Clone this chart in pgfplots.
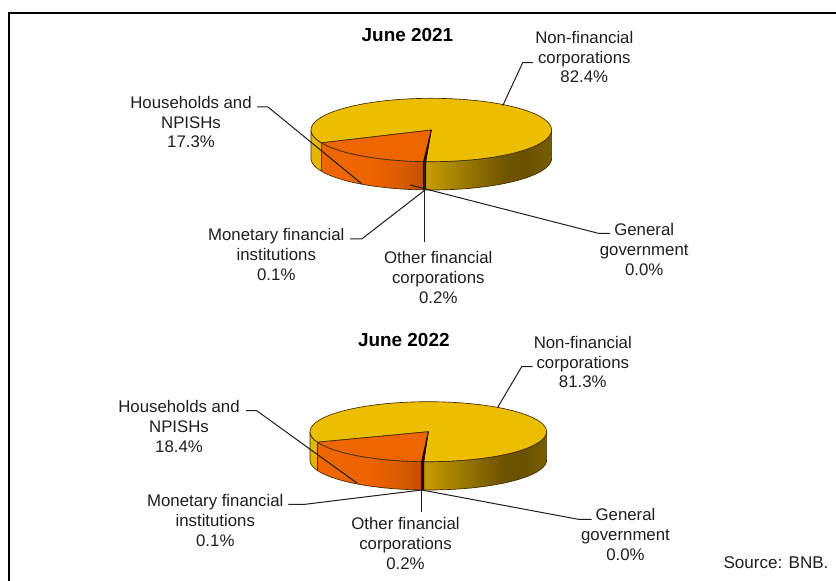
\documentclass[border=0pt]{standalone}
\usepackage{pgfplots}
\usepackage{pgfplotstable}
\usepackage{fontspec}
\setmainfont{Liberation Sans}
\pgfplotsset{compat=1.18}

% Shares of each sector, in the clockwise order the slices follow
\pgfplotstableread{
sector      y2021  y2022
nonfin      82.4   81.3
government  0.0    0.0
otherfin    0.2    0.2
monetary    0.1    0.1
households  17.3   18.4
}\shares

\definecolor{gold}{RGB}{236,190,0}
\definecolor{goldleft}{RGB}{228,182,0}
\definecolor{flame}{RGB}{238,102,0}
\definecolor{rim}{RGB}{70,42,0}
\definecolor{thin}{RGB}{30,6,0}
\definecolor{ink}{RGB}{30,30,30}

\tikzset{
  wall/.style={draw=rim, line width=0.5pt, line join=round},
  sliver/.style={draw=thin, fill=thin, line width=0.3pt, line join=round},
  leader/.style={draw=ink, line width=0.75pt},
  lab/.style={font=\fontsize{12.6}{14.7}\selectfont, text=ink, align=center, inner sep=0pt},
  ttl/.style={font=\fontsize{14.2}{16}\selectfont\bfseries, text=black, inner sep=0pt},
}

% Side walls of the pie: shading runs over the middle 50bp of the 100bp box
\pgfdeclarehorizontalshading{goldwall}{100bp}{
  rgb(0bp)=(0.78,0.62,0); rgb(25bp)=(0.78,0.62,0); rgb(41bp)=(0.60,0.47,0);
  rgb(57bp)=(0.43,0.33,0); rgb(66bp)=(0.42,0.32,0); rgb(75bp)=(0.47,0.37,0); rgb(100bp)=(0.47,0.37,0)}
\pgfdeclarehorizontalshading{flamewall}{100bp}{
  rgb(0bp)=(0.94,0.40,0); rgb(25bp)=(0.94,0.40,0); rgb(50bp)=(0.93,0.39,0);
  rgb(64bp)=(0.86,0.36,0); rgb(75bp)=(0.76,0.31,0); rgb(100bp)=(0.76,0.31,0)}

% Wedge of the top face: #1 cx, #2 cy, #3 rx, #4 ry, #5 from, #6 to, #7 style
\newcommand{\topwedge}[7]{%
  \pgfmathsetmacro\angstep{(#6-(#5))/60}%
  \pgfmathsetmacro\anglo{#5-\angstep}%
  \pgfmathsetmacro\angmid{#5-\angstep/2}%
  \pgfmathsetmacro\anghi{#6}%
  \addplot[#7,domain=\anglo:\anghi,samples=62]
    ({ifthenelse(x<\angmid,#1,#1+#3*sin(x))},{ifthenelse(x<\angmid,#2,#2-#4*cos(x))}) -- cycle;
}
% Wall below the rim: #1 cx, #2 cy, #3 rx, #4 ry, #5 depth, #6 from, #7 to, #8 style
\newcommand{\sidewall}[8]{%
  \addplot[#8,domain=0:2,samples=121]
    ({#1+#3*sin(#6+(#7-(#6))*min(1,(1-abs(x-1))/0.98))},
     {#2-#4*cos(#6+(#7-(#6))*min(1,(1-abs(x-1))/0.98))+#5*(x<1)}) -- cycle;
}
% One whole pie: #1 table column, #2 cx, #3 cy, #4 rx, #5 ry, #6 depth, #7 start angle
\newcommand{\drawpie}[7]{%
  \pgfplotstablegetelem{0}{#1}\of\shares\let\sA\pgfplotsretval
  \pgfplotstablegetelem{1}{#1}\of\shares\let\sB\pgfplotsretval
  \pgfplotstablegetelem{2}{#1}\of\shares\let\sC\pgfplotsretval
  \pgfplotstablegetelem{3}{#1}\of\shares\let\sD\pgfplotsretval
  \pgfmathsetmacro\aA{#7+3.6*\sA}%
  \pgfmathsetmacro\aB{\aA+3.6*\sB}%
  \pgfmathsetmacro\aC{\aB+3.6*\sC}%
  \pgfmathsetmacro\aD{\aC+3.6*\sD}%
  \pgfmathsetmacro\fA{\aB-360}%
  \pgfmathsetmacro\fC{\aC-360}%
  \pgfmathsetmacro\fD{\aD-360}%
  \sidewall{#2}{#3}{#4}{#5}{#6}{90}{\fA}{wall,shading=goldwall}
  \sidewall{#2}{#3}{#4}{#5}{#6}{\fD}{#7}{wall,shading=flamewall}
  \sidewall{#2}{#3}{#4}{#5}{#6}{#7}{270}{wall,fill=goldleft}
  \sidewall{#2}{#3}{#4}{#5}{#6}{\fA}{\fC}{sliver}
  \sidewall{#2}{#3}{#4}{#5}{#6}{\fC}{\fD}{sliver}
  \topwedge{#2}{#3}{#4}{#5}{#7}{\aA}{wall,fill=gold}
  \topwedge{#2}{#3}{#4}{#5}{\aD}{#7+360}{wall,fill=flame}
  \topwedge{#2}{#3}{#4}{#5}{\aB}{\aC}{sliver}
  \topwedge{#2}{#3}{#4}{#5}{\aC}{\aD}{sliver}
}

\begin{document}
\begin{tikzpicture}[x=1pt,y=1pt]
\useasboundingbox (0,0) rectangle (627,435.75);
\begin{axis}[
  at={(0,0)}, anchor=south west,
  scale only axis, width=627pt, height=435.75pt,
  xmin=0, xmax=836, ymin=0, ymax=581, y dir=reverse,
  hide axis, clip=false, no markers,
]
% frame along the left and top
\addplot[black, line width=1.3pt] coordinates {(9,581) (9,13) (836,13)};

\drawpie{y2021}{431.3}{130}{120.3}{31.7}{28.3}{246}
\drawpie{y2022}{428.3}{431.7}{118.3}{30}{28.3}{249.5}

% leader lines, first pie
\addplot[leader] coordinates {(257,107) (268,107) (362,184)};
\addplot[leader] coordinates {(533,62.7) (522.7,62.7) (502.7,105.7)};
\addplot[leader] coordinates {(350,239) (361.7,239) (425,190)};
\addplot[leader] coordinates {(424.3,190) (424.3,242.3)};
\addplot[leader] coordinates {(610,233.3) (598.3,233.3) (410,185)};

% leader lines, second pie
\addplot[leader] coordinates {(246,410.7) (256.7,410.7) (357.3,483.3)};
\addplot[leader] coordinates {(532.7,366.7) (521.7,366.7) (497.7,407.3)};
\addplot[leader] coordinates {(288.3,504.3) (305,504.3) (421.7,490)};
\addplot[leader] coordinates {(421.7,490) (421.7,511.7)};
\addplot[leader] coordinates {(591.7,519.3) (578.3,519.3) (421.7,490)};

\node[ttl] at (axis cs:407.5,35) {June 2021};
\node[lab] at (axis cs:191,122.2) {Households and\\NPISHs\\17.3\%};
\node[lab] at (axis cs:584.3,57) {Non-financial\\corporations\\82.4\%};
\node[lab] at (axis cs:276.3,254.5) {Monetary financial\\institutions\\0.1\%};
\node[lab] at (axis cs:438.3,277.5) {Other financial\\corporations\\0.2\%};
\node[lab] at (axis cs:644.2,249.5) {General\\government\\0.0\%};

\node[ttl] at (axis cs:403.8,340) {June 2022};
\node[lab] at (axis cs:179,426.5) {Households and\\NPISHs\\18.4\%};
\node[lab] at (axis cs:582.8,362.2) {Non-financial\\corporations\\81.3\%};
\node[lab] at (axis cs:215.3,520.5) {Monetary financial\\institutions\\0.1\%};
\node[lab] at (axis cs:405.5,543.5) {Other financial\\corporations\\0.2\%};
\node[lab] at (axis cs:625.5,534.5) {General\\government\\0.0\%};

\node[lab, font=\fontsize{12.8}{14.7}\selectfont] at (axis cs:776,562.3) {Source: BNB.};
\end{axis}
\end{tikzpicture}
\end{document}
